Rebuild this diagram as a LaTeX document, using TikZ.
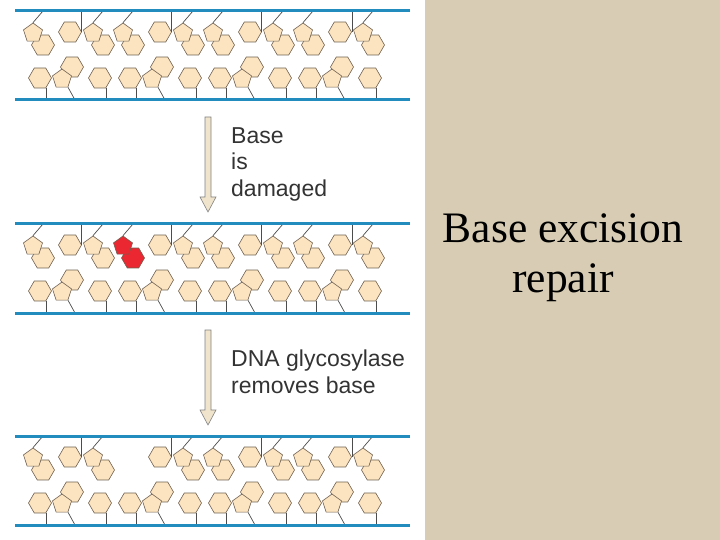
\documentclass[tikz,border=0pt]{standalone}
\usepackage{fontspec}
\setmainfont{Liberation Serif}
\setsansfont{Liberation Sans}
\usetikzlibrary{shapes.geometric}
\definecolor{strandblue}{RGB}{35,140,190}
\definecolor{basefill}{RGB}{252,228,192}
\definecolor{baseedge}{RGB}{110,95,80}
\definecolor{damred}{RGB}{235,40,50}
\definecolor{paper}{RGB}{216,205,180}
\definecolor{arrowfill}{RGB}{240,228,205}
\tikzset{
  hexa/.style={regular polygon, regular polygon sides=6, draw=baseedge, fill=basefill,
    minimum size=23pt, inner sep=0pt, line width=0.6pt},
  penta/.style={regular polygon, regular polygon sides=5, draw=baseedge, fill=basefill,
    minimum size=20pt, inner sep=0pt, line width=0.6pt},
  strand/.style={draw=strandblue, line width=3pt},
  bond/.style={draw=black!70, line width=0.7pt},
  label/.style={font=\sffamily\fontsize{23}{26.5}\selectfont, text=black!80, align=left, anchor=north west, inner sep=0pt},
  bigarrow/.style={draw=black!50, fill=arrowfill, line width=0.6pt}
}
% top strand bases
\newcommand{\purtop}[3]{%
  \node[hexa, fill=#3] (hx) at (#1+3,#2+34) {};
  \node[penta, fill=#3] (pn) at (#1-7,#2+22) {};
  \draw[bond] (pn.corner 1) -- (#1+3,#2);}
\newcommand{\pyrtop}[2]{%
  \node[hexa] (hx) at (#1,#2+21) {};
  \draw[bond] (hx.corner 6) -- (hx.corner 6 |- 0,#2);}
% bottom strand bases
\newcommand{\purbot}[2]{%
  \node[hexa] (hx) at (#1+2,#2-33) {};
  \node[penta] (pn) at (#1-8,#2-21) {};
  \draw[bond] (pn.corner 4) -- (#1+5,#2);}
\newcommand{\pyrbot}[2]{%
  \node[hexa] (hx) at (#1,#2-22) {};
  \draw[bond] (hx.corner 5) -- (hx.corner 5 |- 0,#2);}
\begin{document}
\begin{tikzpicture}[x=1pt,y=-1pt]
  \useasboundingbox (0,0) rectangle (720,540);
  \fill[paper] (425,0) rectangle (720,540);
  \node[font=\fontsize{43.5}{50}\selectfont, align=center] (title) at (563,258) {Base excision\\repair};

  % three panels of DNA
  \foreach \ya/\pan in {11/1,224/2,436/3} {
    \pgfmathsetmacro{\yb}{\ya+89}
    \foreach \c in {1,3,4,6,7,9,10,12} {
      \pgfmathsetmacro{\xc}{10+30*\c}
      \ifnum\c=4
        \ifnum\pan=2 \purtop{\xc}{\ya}{damred}\fi
        \ifnum\pan=1 \purtop{\xc}{\ya}{basefill}\fi
      \else
        \purtop{\xc}{\ya}{basefill}
      \fi
      \pyrbot{\xc}{\yb}
    }
    \foreach \c in {2,5,8,11} {
      \pgfmathsetmacro{\xc}{10+30*\c}
      \pyrtop{\xc}{\ya}
      \purbot{\xc}{\yb}
    }
    \draw[strand] (15,\ya) -- (410,\ya);
    \draw[strand] (15,\yb) -- (410,\yb);
  }

  % arrows
  \foreach \ys in {117,330} {
    \draw[bigarrow] (205,\ys) -- (211,\ys) -- (211,\ys+80) -- (216,\ys+80)
      -- (208,\ys+95) -- (200,\ys+80) -- (205,\ys+80) -- cycle;
  }
  \node[label] (step1) at (231,127) {Base\\is\\damaged};
  \node[label] (step2) at (231,350) {DNA glycosylase\\removes base};
\end{tikzpicture}
\end{document}
